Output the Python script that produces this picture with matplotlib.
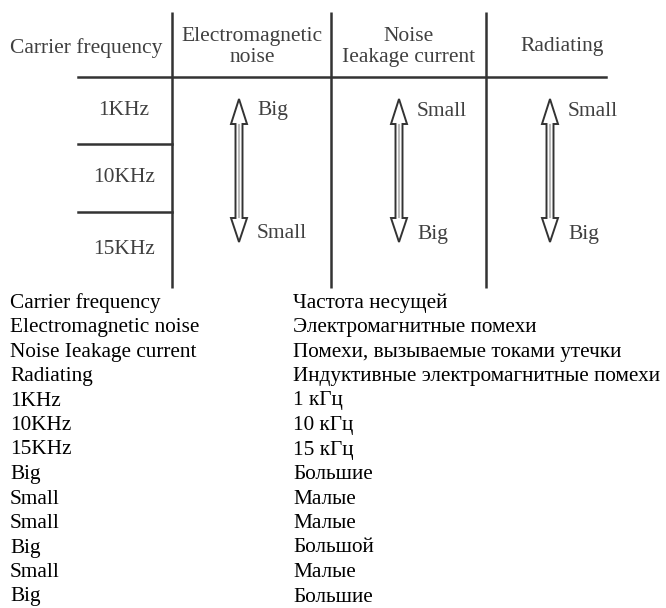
import matplotlib.pyplot as plt
from matplotlib.patches import Polygon

# table content
columns = ["Electromagnetic\nnoise", "Noise\nIeakage current", "Radiating"]
freqs = ["1KHz", "10KHz", "15KHz"]
top_labels = ["Big", "Small", "Small"]
bottom_labels = ["Small", "Big", "Big"]

# glossary below the diagram
legend_en = ["Carrier frequency", "Electromagnetic noise", "Noise Ieakage current",
             "Radiating", "1KHz", "10KHz", "15KHz", "Big", "Small", "Small",
             "Big", "Small", "Big"]
legend_ru = ["Частота несущей", "Электромагнитные помехи",
             "Помехи, вызываемые токами утечки",
             "Индуктивные электромагнитные помехи", "1 кГц", "10 кГц", "15 кГц",
             "Большие", "Малые", "Малые", "Большой", "Малые", "Большие"]

plt.rcParams['font.family'] = ['Liberation Serif', 'DejaVu Serif']

fig = plt.figure(figsize=(6.66, 6.08), dpi=100)
ax = fig.add_axes([0, 0, 1, 1])
ax.set_xlim(0, 666)
ax.set_ylim(608, 0)
ax.axis('off')

line_c = '#333333'
text_c = '#404040'
fs_tab = 15.5
fs_leg = 15.3

# grid lines
dividers = [172, 331, 486]
top, bottom = 12, 288
header_y = 77
row_lines = [144, 212]
for x in dividers:
    ax.plot([x, x], [top, bottom], color=line_c, lw=1.8, solid_capstyle='butt')
ax.plot([78, 606], [header_y, header_y], color=line_c, lw=1.8)
for y in row_lines:
    ax.plot([78, dividers[0]], [y, y], color=line_c, lw=1.8)

# header texts
ax.text(86, 48, "Carrier frequency", ha='center', va='center', fontsize=fs_tab, color=text_c)
col_centers = [252, 409, 562]
for cx, name in zip(col_centers, columns):
    ax.text(cx, 47, name, ha='center', va='center', fontsize=fs_tab, color=text_c,
            linespacing=1.2)

# frequency rows
row_bounds = [header_y] + row_lines + [bottom]
for i, f in enumerate(freqs):
    yc = (row_bounds[i] + row_bounds[i + 1]) / 2
    ax.text(124, yc, f, ha='center', va='center', fontsize=fs_tab, color=text_c)

# double-headed hollow arrows
arrow_x = [239, 399, 550]
tip_top, base_top, base_bot, tip_bot = 99, 124, 218, 242
hw, sw = 8, 3.5
for ax_x, lt, lb in zip(arrow_x, top_labels, bottom_labels):
    pts = [(ax_x, tip_top), (ax_x + hw, base_top), (ax_x + sw, base_top),
           (ax_x + sw, base_bot), (ax_x + hw, base_bot), (ax_x, tip_bot),
           (ax_x - hw, base_bot), (ax_x - sw, base_bot), (ax_x - sw, base_top),
           (ax_x - hw, base_top)]
    ax.add_patch(Polygon(pts, closed=True, facecolor='white', edgecolor=line_c,
                         lw=1.4, joinstyle='miter'))
    ax.plot([ax_x, ax_x], [base_top + 1, base_bot - 1], color='#bbbbbb', lw=1.5)
    ax.text(ax_x + 18, 111, lt, ha='left', va='center', fontsize=fs_tab, color=text_c)
    ax.text(ax_x + 18, 234, lb, ha='left', va='center', fontsize=fs_tab, color=text_c)

# glossary
y0, step = 303, 24.5
for i, (en, ru) in enumerate(zip(legend_en, legend_ru)):
    y = y0 + i * step
    ax.text(10, y, en, ha='left', va='center', fontsize=fs_leg, color='black')
    ax.text(293, y, ru, ha='left', va='center', fontsize=fs_leg, color='black')

fig.savefig('out.png', dpi=100)
